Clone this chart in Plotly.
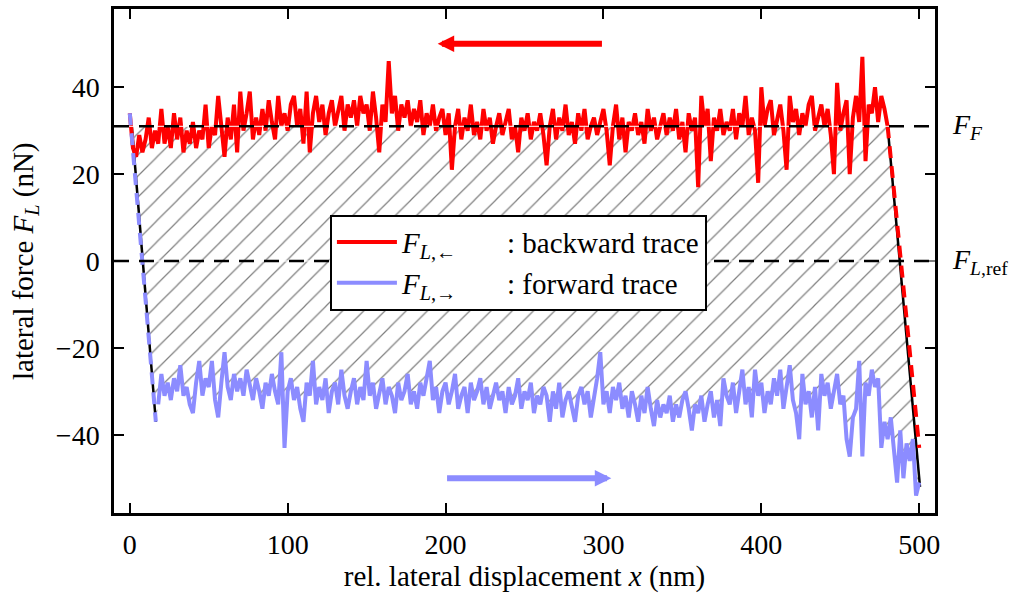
import numpy as np
import plotly.graph_objects as go

# ---------------- data ----------------
# backward trace (red), sliding part, x = 0, 2, ..., 480 nm
red_y = [
    34, 26, 24, 29, 25, 28, 33, 26, 30, 27,
    35, 27, 31, 26, 34, 28, 33, 25, 30, 27,
    32, 26, 30, 28, 36, 26, 31, 29, 38, 30,
    24, 33, 28, 36, 25, 39, 30, 34, 39, 28,
    33, 29, 35, 30, 37, 32, 28, 38, 31, 34,
    30, 36, 38, 31, 35, 27, 39, 25, 34, 38,
    32, 36, 29, 34, 37, 31, 35, 38, 30, 36,
    33, 37, 31, 38, 34, 36, 30, 39, 33, 25,
    36, 32, 46, 34, 38, 30, 36, 33, 37, 31,
    35, 32, 37, 29, 34, 31, 36, 30, 33, 35,
    29, 34, 21, 31, 35, 28, 33, 30, 36, 29,
    32, 28, 35, 30, 33, 27, 31, 34, 29, 32,
    35, 28, 31, 25, 33, 30, 34, 28, 32, 30,
    34, 29, 22, 31, 35, 28, 33, 30, 36, 29,
    32, 27, 34, 30, 35, 28, 31, 33, 29, 32,
    35, 30, 22, 31, 36, 28, 33, 25, 32, 30,
    34, 29, 32, 27, 35, 30, 33, 28, 31, 34,
    29, 33, 30, 35, 28, 32, 25, 34, 30, 33,
    17, 38, 31, 35, 23, 33, 30, 35, 29, 32,
    30, 35, 28, 34, 31, 38, 29, 33, 30, 18,
    40, 31, 35, 37, 29, 33, 36, 30, 21, 38,
    32, 35, 29, 34, 31, 36, 38, 30, 33, 36,
    31, 35, 29, 20, 41, 30, 34, 37, 20, 33,
    38, 32, 47, 23, 36, 34, 40, 32, 38, 35,
    31,
]
red_x = np.linspace(0, 480, len(red_y))

# forward trace (blue), sliding part, x = 18, 20, ..., 500 nm
blue_y = [
    -33,
    -26, -31, -28, -32, -27, -30, -24, -31, -29, -33,
    -35, -28, -23, -31, -27, -29, -23, -32, -36, -28,
    -21, -29, -32, -26, -30, -27, -31, -25, -29, -32,
    -27, -30, -34, -28, -31, -26, -30, -33, -21, -43,
    -30, -27, -32, -29, -34, -37, -28, -31, -23, -33,
    -29, -32, -27, -35, -30, -28, -33, -25, -31, -34,
    -30, -27, -33, -29, -32, -23, -31, -28, -34, -30,
    -27, -33, -29, -31, -35, -28, -32, -30, -26, -33,
    -30, -34, -28, -31, -27, -23, -32, -29, -35, -30,
    -28, -33, -30, -26, -34, -31, -29, -35, -28, -32,
    -30, -27, -33, -29, -34, -31, -28, -32, -30, -35,
    -29, -33, -31, -27, -34, -30, -32, -28, -35, -31,
    -33, -29, -31, -37, -30, -34, -28, -36, -32, -30,
    -34, -37, -31, -29, -33, -30, -36, -32, -27, -21,
    -33, -30, -35, -29, -32, -28, -34, -31, -36, -30,
    -33, -37, -31, -35, -29, -34, -38, -32, -36, -33,
    -35, -31, -37, -33, -36, -32, -30, -34, -39, -33,
    -35, -31, -37, -33, -30, -36, -32, -38, -27, -31,
    -33, -28, -35, -30, -25, -33, -29, -36, -25, -31,
    -28, -35, -30, -33, -27, -31, -25, -34, -29, -24,
    -32, -35, -41, -26, -33, -30, -36, -29, -39, -26,
    -31, -28, -34, -30, -26, -33, -31, -41, -45, -36,
    -34, -23, -45, -28, -31, -25, -29, -27, -43, -37,
    -41, -36, -44, -51, -39, -50, -42, -46, -41, -54,
    -51,
]
blue_x = np.linspace(18, 500, len(blue_y))

# sticking parts (dashed) and their linear fits (black)
blue_stick_x = [0, 16.5]
blue_stick_y = [34, -37]
red_stick_x = [480, 500]
red_stick_y = [31, -43]
fit_left_x = [1.3, 16.5]
fit_left_y = [31, -37]
fit_right_x = [480, 500.5]
fit_right_y = [31, -52]

F_F = 31
F_ref = 0

x_range = [-10, 510]
y_range = [-58, 58]
x_ticks = [0, 100, 200, 300, 400, 500]
y_ticks = [-40, -20, 0, 20, 40]

# arrows (tail x, head x, y)
red_arrow = (300, 195, 50)
blue_arrow = (200, 305, -50)

RED = "#ff0000"
BLUE = "#8c8cff"
FONT = "Liberation Serif, Tinos, DejaVu Serif, serif"
NB = "\u00a0"

# ---------------- figure ----------------
fig = go.Figure()

# hatched work area
poly_x = [fit_left_x[0], fit_right_x[0], fit_right_x[1]] + list(blue_x[::-1]) + [fit_left_x[1], fit_left_x[0]]
poly_y = [F_F, F_F, fit_right_y[1]] + list(blue_y[::-1]) + [fit_left_y[1], fit_left_y[0]]
fig.add_trace(go.Scatter(
    x=poly_x, y=poly_y, mode="lines", fill="toself",
    fillcolor="rgba(0,0,0,0)", line=dict(width=0, color="rgba(0,0,0,0)"),
    fillpattern=dict(shape="/", fgcolor="black", bgcolor="rgba(0,0,0,0)",
                     size=15, solidity=0.08),
    showlegend=False, hoverinfo="skip"))

# linear fits of the sticking parts
for fx, fy in [(fit_left_x, fit_left_y), (fit_right_x, fit_right_y)]:
    fig.add_trace(go.Scatter(x=fx, y=fy, mode="lines",
                             line=dict(color="black", width=2.5),
                             showlegend=False, hoverinfo="skip"))

# forward trace
fig.add_trace(go.Scatter(x=blue_x, y=blue_y, mode="lines",
                         line=dict(color=BLUE, width=4),
                         name="<i>F</i><sub><i>L</i>,→</sub>" + NB * 7 + ": forward trace"))
# backward trace
fig.add_trace(go.Scatter(x=red_x, y=red_y, mode="lines",
                         line=dict(color=RED, width=4),
                         name="<i>F</i><sub><i>L</i>,←</sub>" + NB * 7 + ": backward trace"))

# dashed sticking parts
fig.add_trace(go.Scatter(x=blue_stick_x, y=blue_stick_y, mode="lines",
                         line=dict(color=BLUE, width=4, dash="12px,8px"),
                         showlegend=False, hoverinfo="skip"))
fig.add_trace(go.Scatter(x=red_stick_x, y=red_stick_y, mode="lines",
                         line=dict(color=RED, width=4, dash="12px,8px"),
                         showlegend=False, hoverinfo="skip"))

# horizontal reference lines
for yv in [F_F, F_ref]:
    fig.add_shape(type="line", xref="paper", x0=0, x1=1, yref="y", y0=yv, y1=yv,
                  line=dict(color="white", width=1), layer="above")
    fig.add_shape(type="line", xref="paper", x0=0, x1=1, yref="y", y0=yv, y1=yv,
                  line=dict(color="black", width=2.5, dash="15px,10px"), layer="above")

annotations = [
    dict(x=red_arrow[1], y=red_arrow[2], ax=red_arrow[0], ay=red_arrow[2],
         xref="x", yref="y", axref="x", ayref="y", text="", showarrow=True,
         arrowcolor=RED, arrowwidth=6, arrowhead=2, arrowsize=0.55),
    dict(x=blue_arrow[1], y=blue_arrow[2], ax=blue_arrow[0], ay=blue_arrow[2],
         xref="x", yref="y", axref="x", ayref="y", text="", showarrow=True,
         arrowcolor=BLUE, arrowwidth=6, arrowhead=2, arrowsize=0.55),
    dict(x=1, y=F_F, xref="paper", yref="y", xanchor="left", yanchor="middle",
         xshift=15, text="<i>F</i><sub><i>F</i></sub>", showarrow=False,
         font=dict(family=FONT, size=28, color="black")),
    dict(x=1, y=F_ref, xref="paper", yref="y", xanchor="left", yanchor="middle",
         xshift=15, text="<i>F</i><sub><i>L</i>,ref</sub>", showarrow=False,
         font=dict(family=FONT, size=28, color="black")),
    # y-axis title
    dict(x=0, y=0.5, xref="paper", yref="paper", xanchor="center", yanchor="middle",
         xshift=-89, textangle=-90, showarrow=False,
         text="lateral force <i>F</i><sub><i>L</i></sub> (nN)",
         font=dict(family=FONT, size=29, color="black")),
]

axis_common = dict(
    showline=True, linecolor="black", linewidth=2.5, mirror="ticks",
    ticks="inside", ticklen=10, tickwidth=1.5, tickcolor="black",
    showgrid=False, zeroline=False,
    tickfont=dict(family=FONT, size=28, color="black"),
)

fig.update_layout(
    width=1019, height=593,
    margin=dict(l=114, r=84, t=6, b=80),
    paper_bgcolor="white", plot_bgcolor="white",
    font=dict(family=FONT, color="black"),
    xaxis=dict(range=x_range, tickvals=x_ticks, ticklabelstandoff=5,
               title=dict(text="rel. lateral displacement <i>x</i> (nm)",
                          font=dict(family=FONT, size=29), standoff=4),
               **axis_common),
    yaxis=dict(range=y_range, tickvals=y_ticks, ticklabelstandoff=6,
               **axis_common),
    legend=dict(x=0.263, y=0.592, xanchor="left", yanchor="top",
                bgcolor="white", bordercolor="black", borderwidth=2,
                font=dict(family=FONT, size=29, color="black"),
                itemwidth=60, traceorder="reversed", tracegroupgap=0),
    annotations=annotations,
    showlegend=True,
)

fig.write_html("out.html",
               config={"displayModeBar": False},
               post_script="document.body.style.margin='0';document.body.style.overflow='hidden';")
